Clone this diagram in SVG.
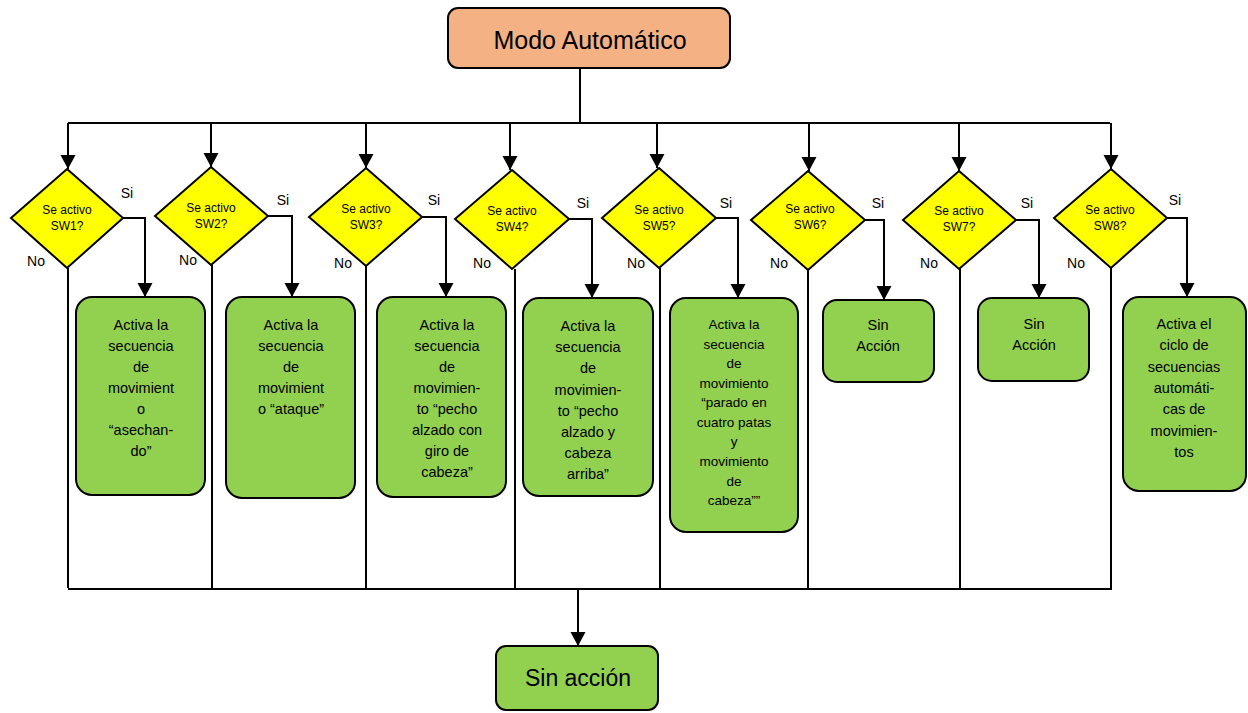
<svg xmlns="http://www.w3.org/2000/svg" width="1248" height="713" viewBox="0 0 1248 713">
<style>
text{font-family:"Liberation Sans",Arial,sans-serif;fill:#000;text-anchor:middle;dominant-baseline:central}
.line{stroke:#000;stroke-width:2;fill:none}
.arr{stroke:#000;stroke-width:2;fill:none;marker-end:url(#ah)}
.dia{fill:#FFFF00;stroke:#000;stroke-width:2}
.box{fill:#92D050;stroke:#000;stroke-width:2}
.top{fill:#F4B183;stroke:#000;stroke-width:2}
.dt{font-size:12px}
.bt{font-size:14.5px}
.lb{font-size:14px}
</style>
<defs>
<marker id="ah" markerUnits="userSpaceOnUse" markerWidth="16" markerHeight="16" refX="14" refY="7.5" orient="auto">
<path d="M0,0 L14,7.5 L0,15 z" fill="#000"/>
</marker>
</defs>
<rect width="1248" height="713" fill="#fff"/>
<g id="connectors">
<path class="line" d="M580,68 V123"/>
<path class="line" d="M68,123 H1110"/>
<path class="arr" d="M68,123 V169"/>
<path class="arr" d="M211,123 V167"/>
<path class="arr" d="M366,123 V168"/>
<path class="arr" d="M510,123 V170"/>
<path class="arr" d="M657,123 V168"/>
<path class="arr" d="M809,123 V171"/>
<path class="arr" d="M959,123 V171"/>
<path class="arr" d="M1111,123 V169"/>
<path class="arr" d="M123,218 H145 V297"/>
<path class="arr" d="M268,216 H292 V297"/>
<path class="arr" d="M422,217 H446 V297"/>
<path class="arr" d="M569,219 H592 V298"/>
<path class="arr" d="M716,218 H738 V298"/>
<path class="arr" d="M865,220 H884 V300"/>
<path class="arr" d="M1016,220 H1039 V298"/>
<path class="arr" d="M1167,218 H1187 V297"/>
<path class="line" d="M68,268 V588"/>
<path class="line" d="M212,265 V588"/>
<path class="line" d="M366,266 V588"/>
<path class="line" d="M515,269 V588"/>
<path class="line" d="M660,268 V588"/>
<path class="line" d="M808,270 V588"/>
<path class="line" d="M960,269 V588"/>
<path class="line" d="M1111,268 V588"/>
<path class="line" d="M68,589 H1112"/>
<path class="arr" d="M578,589 V646"/>
<text class="lb" x="127" y="193">Si</text>
<text class="lb" x="283" y="200">Si</text>
<text class="lb" x="434" y="200">Si</text>
<text class="lb" x="583" y="203">Si</text>
<text class="lb" x="726" y="203">Si</text>
<text class="lb" x="878" y="203">Si</text>
<text class="lb" x="1027" y="203">Si</text>
<text class="lb" x="1175" y="200">Si</text>
<text class="lb" x="36" y="261">No</text>
<text class="lb" x="188" y="260">No</text>
<text class="lb" x="343" y="263">No</text>
<text class="lb" x="482" y="263">No</text>
<text class="lb" x="636" y="263">No</text>
<text class="lb" x="779" y="263">No</text>
<text class="lb" x="929" y="263">No</text>
<text class="lb" x="1076" y="263">No</text>
</g>
<g id="start">
<rect class="top" x="448" y="8" width="282" height="60" rx="10"/>
<text x="590" y="40" font-size="25">Modo Automático</text>
</g>
<g id="d1"><polygon class="dia" points="67,169 123,218 67,268 11,218"/><text class="dt" x="67" y="210">Se activo</text><text class="dt" x="67" y="226">SW1?</text></g>
<g id="d2"><polygon class="dia" points="211,167 268,216 211,265 155,216"/><text class="dt" x="211" y="208">Se activo</text><text class="dt" x="211" y="224">SW2?</text></g>
<g id="d3"><polygon class="dia" points="366,168 422,217 366,266 309,217"/><text class="dt" x="366" y="209">Se activo</text><text class="dt" x="366" y="225">SW3?</text></g>
<g id="d4"><polygon class="dia" points="512,170 569,219 512,269 455,219"/><text class="dt" x="512" y="211">Se activo</text><text class="dt" x="512" y="227">SW4?</text></g>
<g id="d5"><polygon class="dia" points="659,168 716,218 659,268 602,218"/><text class="dt" x="659" y="210">Se activo</text><text class="dt" x="659" y="226">SW5?</text></g>
<g id="d6"><polygon class="dia" points="808,171 865,220 808,270 751,220"/><text class="dt" x="810" y="209">Se activo</text><text class="dt" x="810" y="225">SW6?</text></g>
<g id="d7"><polygon class="dia" points="959,171 1016,220 959,269 903,220"/><text class="dt" x="959" y="211">Se activo</text><text class="dt" x="959" y="227">SW7?</text></g>
<g id="d8"><polygon class="dia" points="1111,169 1167,218 1111,268 1054,218"/><text class="dt" x="1110" y="210">Se activo</text><text class="dt" x="1110" y="226">SW8?</text></g>
<g id="b1"><rect class="box" x="76" y="297" width="129" height="198" rx="16"/>
<text class="bt"><tspan x="141" y="325">Activa la</tspan><tspan x="141" y="346">secuencia</tspan><tspan x="141" y="367">de</tspan><tspan x="141" y="388">movimient</tspan><tspan x="141" y="409">o</tspan><tspan x="141" y="430">“asechan-</tspan><tspan x="141" y="451">do”</tspan></text></g>
<g id="b2"><rect class="box" x="226" y="297" width="129" height="201" rx="16"/>
<text class="bt"><tspan x="291" y="325">Activa la</tspan><tspan x="291" y="346">secuencia</tspan><tspan x="291" y="367">de</tspan><tspan x="291" y="388">movimient</tspan><tspan x="291" y="409">o “ataque”</tspan></text></g>
<g id="b3"><rect class="box" x="377" y="297" width="129" height="200" rx="16"/>
<text class="bt"><tspan x="447" y="325">Activa la</tspan><tspan x="447" y="346">secuencia</tspan><tspan x="447" y="367">de</tspan><tspan x="447" y="388">movimien-</tspan><tspan x="447" y="409">to “pecho</tspan><tspan x="447" y="430">alzado con</tspan><tspan x="447" y="451">giro de</tspan><tspan x="447" y="472">cabeza”</tspan></text></g>
<g id="b4"><rect class="box" x="523" y="298" width="130" height="198" rx="16"/>
<text class="bt"><tspan x="588" y="326">Activa la</tspan><tspan x="588" y="347">secuencia</tspan><tspan x="588" y="368">de</tspan><tspan x="588" y="390">movimien-</tspan><tspan x="588" y="411">to “pecho</tspan><tspan x="588" y="432">alzado y</tspan><tspan x="588" y="453">cabeza</tspan><tspan x="588" y="474">arriba”</tspan></text></g>
<g id="b5"><rect class="box" x="670" y="298" width="128" height="234" rx="16"/>
<text class="bt" style="font-size:13.5px"><tspan x="734" y="324">Activa la</tspan><tspan x="734" y="344">secuencia</tspan><tspan x="734" y="363">de</tspan><tspan x="734" y="383">movimiento</tspan><tspan x="734" y="402">“parado en</tspan><tspan x="734" y="422">cuatro patas</tspan><tspan x="734" y="441">y</tspan><tspan x="734" y="461">movimiento</tspan><tspan x="734" y="481">de</tspan><tspan x="734" y="500">cabeza””</tspan></text></g>
<g id="b6"><rect class="box" x="823" y="300" width="111" height="82" rx="14"/>
<text class="bt"><tspan x="878" y="325">Sin</tspan><tspan x="878" y="346">Acción</tspan></text></g>
<g id="b7"><rect class="box" x="978" y="298" width="111" height="83" rx="14"/>
<text class="bt"><tspan x="1034" y="324">Sin</tspan><tspan x="1034" y="345">Acción</tspan></text></g>
<g id="b8"><rect class="box" x="1123" y="297" width="123" height="194" rx="16"/>
<text class="bt"><tspan x="1184" y="324">Activa el</tspan><tspan x="1184" y="345">ciclo de</tspan><tspan x="1184" y="367">secuencias</tspan><tspan x="1184" y="388">automáti-</tspan><tspan x="1184" y="409">cas de</tspan><tspan x="1184" y="431">movimien-</tspan><tspan x="1184" y="452">tos</tspan></text></g>
<g id="end"><rect class="box" x="496" y="646" width="162" height="64" rx="10"/>
<text x="578" y="678" font-size="23">Sin acción</text></g>
</svg>
